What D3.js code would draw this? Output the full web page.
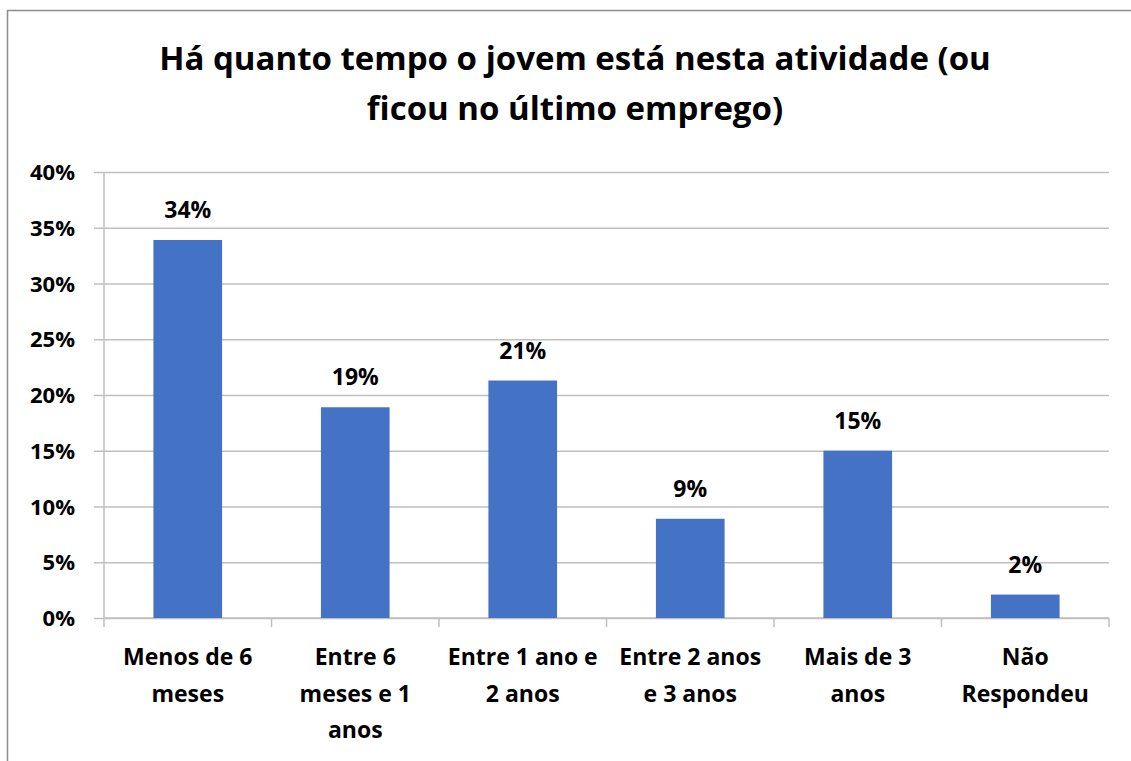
<!DOCTYPE html>
<meta charset="utf-8">
<style>
body { margin: 0; background: white; }
svg { display: block; font-family: "Open Sans", sans-serif; }
.title { font-weight: bold; font-size: 33px; text-anchor: middle; fill: #000; }
.tick text { font-family: "Open Sans", sans-serif; font-weight: bold; font-size: 22px; fill: #000; }
.label { font-weight: bold; font-size: 23px; text-anchor: middle; fill: #000; }
.cat { font-weight: bold; font-size: 23px; text-anchor: middle; fill: #000; }
</style>
<body>
<script src="https://cdn.jsdelivr.net/npm/d3@7"></script>
<script>
// data
var categories = [
  ["Menos de 6", "meses"],
  ["Entre 6", "meses e 1", "anos"],
  ["Entre 1 ano e", "2 anos"],
  ["Entre 2 anos", "e 3 anos"],
  ["Mais de 3", "anos"],
  ["Não", "Respondeu"]
];
var values = [33.9, 18.9, 21.3, 8.9, 15.0, 2.1];
var valueLabels = ["34%", "19%", "21%", "9%", "15%", "2%"];
var yTicks = [0, 5, 10, 15, 20, 25, 30, 35, 40];
var titleLines = ["Há quanto tempo o jovem está nesta atividade (ou", "ficou no último emprego)"];

var W = 1131, H = 761;
var margin = {top: 172, right: 22, bottom: 143, left: 104};
var width = W - margin.left - margin.right,
    height = H - margin.top - margin.bottom;

var svg = d3.select("body").append("svg")
    .attr("width", W)
    .attr("height", H);

// chart frame
svg.append("path")
    .attr("d", "M7.5," + H + "V10.5H" + W)
    .attr("fill", "none")
    .attr("stroke", "#8c8c8c")
    .attr("stroke-width", 1.5);

svg.selectAll(".title")
    .data(titleLines)
    .enter().append("text")
    .attr("class", "title")
    .attr("x", 575)
    .attr("y", function(d, i) { return 70 + i * 50; })
    .text(function(d) { return d; });

var g = svg.append("g")
    .attr("transform", "translate(" + margin.left + "," + margin.top + ")");

var idx = d3.range(categories.length);
var x = d3.scaleBand()
    .domain(idx)
    .range([0, width])
    .paddingInner(0.59)
    .paddingOuter(0.295);
var xb = d3.scaleBand().domain(idx).range([0, width]);
var y = d3.scaleLinear().domain([0, 40]).range([height, 0]);

// y axis with gridlines
var yAxis = g.append("g")
    .call(d3.axisLeft(y).tickValues(yTicks).tickSize(-width - 10).tickFormat(function(d) { return d + "%"; }))
    .attr("transform", "translate(-10,0)");
yAxis.select(".domain").remove();
yAxis.selectAll(".tick line").attr("stroke", "#bfbfbf").attr("stroke-width", 1.5);
yAxis.selectAll(".tick text").attr("x", -19).attr("dy", "0.35em");

g.append("line")
    .attr("x1", 0).attr("x2", 0)
    .attr("y1", 0).attr("y2", height)
    .attr("stroke", "#bfbfbf").attr("stroke-width", 1.5);

// x axis tick marks at band boundaries
g.selectAll(".xtick")
    .data(idx.concat([categories.length]))
    .enter().append("line")
    .attr("x1", function(d) { return d < categories.length ? xb(d) : width; })
    .attr("x2", function(d) { return d < categories.length ? xb(d) : width; })
    .attr("y1", height).attr("y2", height + 9)
    .attr("stroke", "#bfbfbf").attr("stroke-width", 1.5);
g.append("line")
    .attr("x1", 0).attr("x2", width)
    .attr("y1", height).attr("y2", height)
    .attr("stroke", "#bfbfbf").attr("stroke-width", 1.5);

g.selectAll(".bar")
    .data(values)
    .enter().append("rect")
    .attr("class", "bar")
    .attr("fill", "#4472c4")
    .attr("x", function(d, i) { return x(i); })
    .attr("width", x.bandwidth())
    .attr("y", function(d) { return y(d); })
    .attr("height", function(d) { return height - y(d); });

g.selectAll(".label")
    .data(values)
    .enter().append("text")
    .attr("class", "label")
    .attr("x", function(d, i) { return x(i) + x.bandwidth() / 2; })
    .attr("y", function(d) { return y(d) - 22; })
    .text(function(d, i) { return valueLabels[i]; });

var cats = g.selectAll(".cat")
    .data(categories)
    .enter().append("text")
    .attr("class", "cat")
    .attr("transform", function(d, i) { return "translate(" + (xb(i) + xb.bandwidth() / 2) + "," + (height + 47) + ")"; });
cats.selectAll("tspan")
    .data(function(d) { return d; })
    .enter().append("tspan")
    .attr("x", 0)
    .attr("y", function(d, i) { return i * 36.5; })
    .text(function(d) { return d; });
</script>
</body>
